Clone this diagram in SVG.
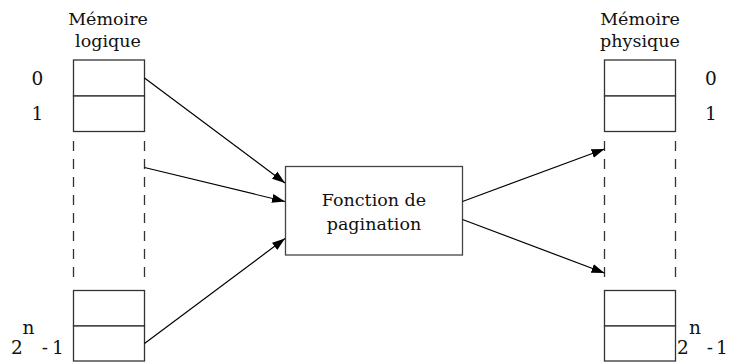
<svg xmlns="http://www.w3.org/2000/svg" width="735" height="362" viewBox="0 0 735 362">
<style>
  .cell { fill: #fff; stroke: #333; stroke-width: 1.3; }
  .dash { stroke: #333; stroke-width: 1.3; stroke-dasharray: 10 8; fill: none; }
  .box { fill: #fff; stroke: #444; stroke-width: 1.3; }
  .t { font-family: "DejaVu Serif", "Liberation Serif", serif; font-size: 17.5px; fill: #111; }
  .d { font-size: 18.5px; }
  .c { text-anchor: middle; }
  .edge { stroke: #000; stroke-width: 1.2; fill: none; marker-end: url(#ah); }
</style>
<defs>
  <marker id="ah" markerUnits="userSpaceOnUse" markerWidth="14" markerHeight="10" refX="13" refY="5" orient="auto">
    <path d="M0,0.5 L13,5 L0,9.5 Z" fill="#000"/>
  </marker>
</defs>

<g id="logical-memory">
  <text class="t c" x="108" y="25">Mémoire</text>
  <text class="t c" x="108" y="47">logique</text>
  <rect class="cell" x="73.5" y="60" width="71" height="36"/>
  <rect class="cell" x="73.5" y="96" width="71" height="35.5"/>
  <line class="dash" x1="73.5" y1="141" x2="73.5" y2="284"/>
  <line class="dash" x1="144.5" y1="141" x2="144.5" y2="284"/>
  <rect class="cell" x="73.5" y="290.5" width="71" height="35.5"/>
  <rect class="cell" x="73.5" y="326" width="71" height="35"/>
  <text class="t d c" x="37.5" y="85">0</text>
  <text class="t d c" x="37.5" y="119.5">1</text>
  <text class="t d c" x="17" y="354">2</text>
  <text class="t d c" x="28.5" y="334">n</text>
  <text class="t d c" x="45" y="354">-</text>
  <text class="t d c" x="58" y="354">1</text>
</g>

<g id="physical-memory">
  <text class="t c" x="640" y="25">Mémoire</text>
  <text class="t c" x="640" y="47">physique</text>
  <rect class="cell" x="604.5" y="60" width="71" height="36"/>
  <rect class="cell" x="604.5" y="96" width="71" height="35.5"/>
  <line class="dash" x1="604.5" y1="141" x2="604.5" y2="284"/>
  <line class="dash" x1="675.5" y1="141" x2="675.5" y2="284"/>
  <rect class="cell" x="604.5" y="290.5" width="71" height="35.5"/>
  <rect class="cell" x="604.5" y="326" width="71" height="35"/>
  <text class="t d c" x="711" y="85">0</text>
  <text class="t d c" x="711" y="119.5">1</text>
  <text class="t d c" x="683" y="354">2</text>
  <text class="t d c" x="695" y="334">n</text>
  <text class="t d c" x="710" y="354">-</text>
  <text class="t d c" x="722" y="354">1</text>
</g>

<g id="pagination-function">
  <rect class="box" x="285.5" y="166.5" width="177" height="88.5"/>
  <text class="t c" x="374" y="206">Fonction de</text>
  <text class="t c" x="374" y="230">pagination</text>
</g>

<g id="connectors">
  <line class="edge" x1="144.5" y1="78" x2="285" y2="183"/>
  <line class="edge" x1="144.5" y1="167.5" x2="285" y2="201.5"/>
  <line class="edge" x1="144.5" y1="343.5" x2="285" y2="238.5"/>
  <line class="edge" x1="462.5" y1="201.5" x2="604.5" y2="149"/>
  <line class="edge" x1="462.5" y1="219.5" x2="604.5" y2="273"/>
</g>
</svg>
